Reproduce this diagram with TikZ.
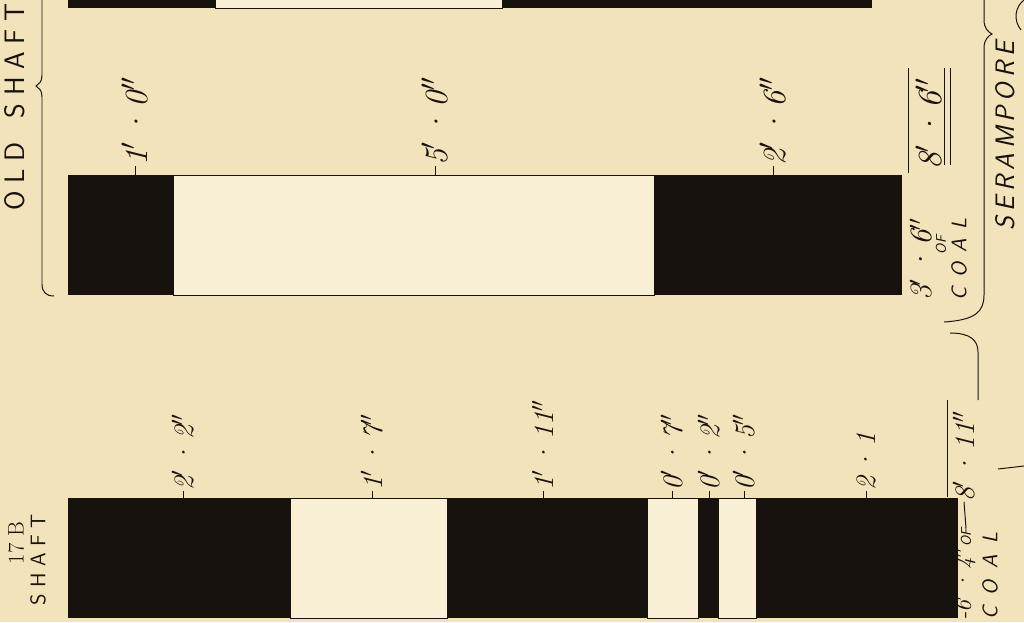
\documentclass[tikz,border=0pt]{standalone}
\usepackage{fontspec}
\usepackage{tikz}
\usetikzlibrary{positioning}
\definecolor{paper}{RGB}{242,227,186}
\definecolor{shale}{RGB}{250,240,214}
\definecolor{coal}{RGB}{24,18,14}
% wide letter spacing for the lettered names
\newcommand\spreadword[2]{\def\spreadgap{#1}\spreadrest#2\relax}
\def\spreadrest#1{\ifx#1\relax\else#1\hskip\spreadgap\expandafter\spreadrest\fi}

\begin{document}
\begin{tikzpicture}[
    x=0.25mm, y=-0.25mm,
    every node/.style={text=coal},
    coalbed/.style={fill=coal},
    shalebed/.style={fill=shale, draw=coal, line width=0.7pt},
    rule/.style={draw=coal, line width=0.7pt},
    dimbig/.style={rotate=90, anchor=west, inner sep=0pt, font=\itshape\fontsize{23}{23}\selectfont},
    dimsmall/.style={rotate=90, anchor=west, inner sep=0pt, font=\itshape\fontsize{20}{20}\selectfont},
    pitname/.style={rotate=90, inner sep=0pt, font=\sffamily\fontsize{20}{20}\selectfont},
    coalword/.style={rotate=90, anchor=west, inner sep=0pt, font=\sffamily\itshape\fontsize{15}{15}\selectfont},
    ofword/.style={rotate=90, inner sep=0pt, font=\sffamily\itshape\fontsize{10}{10}\selectfont},
    brace/.style={draw=coal, line width=0.7pt}
]
\fill[paper] (0,0) rectangle (1024,622);
\useasboundingbox (0,0) rectangle (1024,622);

% upper section (cut off)
\path[coalbed] (68,-10) rectangle (215,8);
\path[shalebed] (215,-10) rectangle (502,8);
\path[coalbed] (502,-10) rectangle (872,8);

% old shaft section
\path[coalbed] (68,175) rectangle (173,295);
\path[shalebed] (173,175) rectangle (654,295);
\path[coalbed] (654,175) rectangle (902,295);

\foreach \n/\x/\t in {a/135/{1$'$\,·\,0$''$}, b/435/{5$'$\,·\,0$''$}, c/773/{2$'$\,·\,6$''$}} {
  \coordinate (old\n) at (\x,175);
  \node[dimbig] (oldlab\n) at (\x,166) {\t};
  \draw[rule] (old\n) -- (oldlab\n.west);
}

\node[pitname] (oldname) at (15,107) {\spreadword{5.5pt}{OLD~SHAFT}};
\draw[brace] (42,-5) -- (42,75) .. controls (42,82) and (39,84) .. (36,86)
  .. controls (39,88) and (42,90) .. (42,97) -- (42,284)
  .. controls (42,292) and (46,296) .. (54,296);

% serampore totals
\node[dimsmall, font=\itshape\fontsize{22}{22}\selectfont] (oldcoal) at (921,301) {3$'$\,·\,6$''$};
\node[ofword] (oldof) at (941,245) {OF};
\node[coalword] (oldcoalw) at (959,301) {\spreadword{7pt}{COAL}};
\node[dimbig, font=\itshape\fontsize{24}{24}\selectfont] (oldtot) at (929,170) {8$'$\,·\,6$''$};
\draw[rule] (908,68) -- (908,173);
\draw[rule] (944,68) -- (944,165);
\draw[rule] (950,68) -- (950,165);

\node[rotate=90, inner sep=0pt, font=\sffamily\itshape\fontsize{19}{19}\selectfont] (seram) at (1005,136) {\spreadword{3.5pt}{SERAMPORE}};
\draw[brace] (944,322) .. controls (975,320) and (984,312) .. (984,295) -- (984,48)
  .. controls (984,40) and (988,36) .. (992,34)
  .. controls (988,32) and (984,28) .. (984,20) -- (984,-5);
\draw[brace] (1024,0) .. controls (1015,7) and (1013,20) .. (1021,30);

% 17 B shaft section
\path[coalbed] (68,498) rectangle (290,618);
\path[shalebed] (290,498) rectangle (447,618);
\path[coalbed] (447,498) rectangle (647,618);
\path[shalebed] (647,498) rectangle (698,618);
\path[coalbed] (698,498) rectangle (718,618);
\path[shalebed] (718,498) rectangle (756,618);
\path[coalbed] (756,498) rectangle (958,618);

\foreach \n/\x/\t in {a/183/{2$'$\,·\,2$''$}, b/372/{1$'$\,·\,7$''$}, c/543/{1$'$\,·\,11$''$},
    d/672/{0$'$\,·\,7$''$}, e/709/{0$'$\,·\,2$''$}, f/744/{0$'$\,·\,5$''$}, g/866/{2\,·\,1}} {
  \coordinate (new\n) at (\x,498);
  \node[dimsmall] (newlab\n) at (\x,491) {\t};
  \draw[rule] (new\n) -- (newlab\n.west);
}

\node[rotate=90, inner sep=0pt, font=\fontsize{16}{16}\selectfont] (newnum) at (16,543) {17 B};
\node[rotate=90, inner sep=0pt, font=\sffamily\fontsize{15}{15}\selectfont] (newname) at (38,560) {\spreadword{4.5pt}{SHAFT}};

\node[dimsmall, font=\itshape\fontsize{17}{17}\selectfont] (newcoal) at (964,621) {-6$'$\,·\,4$''$};
\node[ofword, anchor=west] (newof) at (966,547) {OF};
\node[dimbig, font=\itshape\fontsize{20}{20}\selectfont] (newtot) at (964,502) {8$'$\,·\,11$''$};
\draw[rule] (newof.east) -- (newtot.west);
\node[coalword] (newcoalw) at (990,620) {\spreadword{8pt}{COAL}};
\draw[rule] (947,400) -- (947,497);
\draw[brace] (950,333) .. controls (970,333) and (978,340) .. (978,352) -- (978,400);
\draw[brace] (998,469) -- (1024,466);

\end{tikzpicture}
\end{document}
